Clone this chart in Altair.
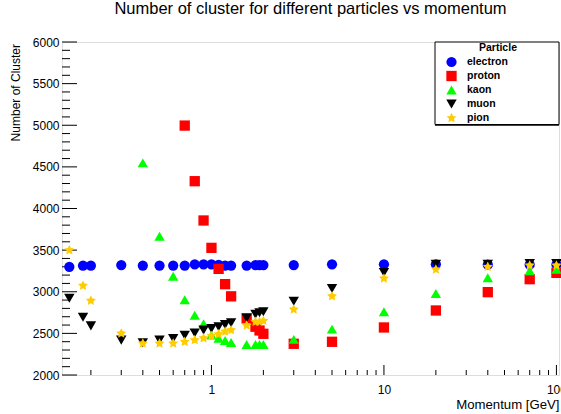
import altair as alt
import pandas as pd

momentum = [0.15, 0.18, 0.2, 0.3, 0.4, 0.5, 0.6, 0.7, 0.8, 0.9, 1.0, 1.1, 1.2, 1.3,
            1.6, 1.8, 1.9, 2.0, 3, 5, 10, 20, 40, 70, 100]

electron = [3300, 3315, 3315, 3320, 3315, 3315, 3315, 3315, 3330, 3330, 3330, 3322, 3315, 3315,
            3315, 3320, 3320, 3320, 3320, 3330, 3330, 3330, 3325, 3325, 3325]
# proton / kaon only visible from some momentum on
proton_p = [0.7, 0.8, 0.9, 1.0, 1.1, 1.2, 1.3, 1.6, 1.8, 1.9, 2.0, 3, 5, 10, 20, 40, 70, 100]
proton = [4996, 4328, 3856, 3527, 3275, 3091, 2945, 2680, 2580, 2535, 2495, 2375, 2399, 2571,
          2775, 2995, 3151, 3227]
kaon_p = [0.4, 0.5, 0.6, 0.7, 0.8, 0.9, 1.0, 1.1, 1.2, 1.3, 1.6, 1.8, 1.9, 2.0, 3, 5, 10, 20, 40, 70, 100]
kaon = [4548, 3667, 3187, 2903, 2719, 2616, 2480, 2440, 2415, 2390, 2367, 2367, 2367, 2367,
        2428, 2551, 2759, 2980, 3167, 3251, 3271]
muon = [2922, 2695, 2590, 2419, 2387, 2419, 2439, 2477, 2505, 2539, 2559, 2579, 2605, 2628,
        2684, 2730, 2748, 2759, 2887, 3040, 3232, 3331, 3330, 3338, 3338]
pion = [3499, 3073, 2893, 2499, 2379, 2379, 2379, 2399, 2419, 2442, 2469, 2490, 2522, 2539,
        2595, 2639, 2641, 2651, 2788, 2947, 3160, 3268, 3299, 3316, 3316]

particles = ["electron", "proton", "kaon", "muon", "pion"]
colors = ["#0000ff", "#ff0000", "#00ff00", "#000000", "#ffcc00"]
star = ("M0,-1L0.29,-0.4L0.951,-0.309L0.476,0.155L0.588,0.809L0,0.5"
        "L-0.588,0.809L-0.476,0.155L-0.951,-0.309L-0.29,-0.4Z")
shapes = ["circle", "square", "triangle-up", "triangle-down", star]
legend_title = ["Particle"]

y_major = list(range(2000, 6001, 500))
y_minor = [v for v in range(2000, 6001, 100) if v % 500 != 0]
x_major = [1, 10, 100]
x_minor = [0.2, 0.3, 0.4, 0.5, 0.6, 0.7, 0.8, 0.9, 2, 3, 4, 5, 6, 7, 8, 9,
           20, 30, 40, 50, 60, 70, 80, 90]

rows = []
for p, v in zip(momentum, electron):
    rows.append(("electron", p, v))
for p, v in zip(proton_p, proton):
    rows.append(("proton", p, v))
for p, v in zip(kaon_p, kaon):
    rows.append(("kaon", p, v))
for p, v in zip(momentum, muon):
    rows.append(("muon", p, v))
for p, v in zip(momentum, pion):
    rows.append(("pion", p, v))
df = pd.DataFrame(rows, columns=["Particle", "Momentum", "Clusters"])

W, H = 497, 333
FONT = "Liberation Sans"

xscale = alt.Scale(type="log", domain=[0.136, 103.5], nice=False)
yscale = alt.Scale(domain=[2000, 6000], nice=False, zero=False)

xaxis = alt.Axis(values=x_major, format="d", ticks=False, domain=False, grid=False,
                 labelFont=FONT, labelFontSize=12, labelColor="black", labelPadding=9,
                 labelFlush=False, labelOverlap=False,
                 title="Momentum [GeV]", titleFont=FONT, titleFontSize=13.2,
                 titleFontWeight="normal", titleColor="black",
                 titleX=W, titleY=29, titleAlign="right", titleBaseline="middle")
yaxis = alt.Axis(values=y_major, format="d", ticks=False, domain=False, grid=False,
                 labelFont=FONT, labelFontSize=12, labelColor="black", labelPadding=3,
                 labelFlush=False, labelOverlap=False,
                 title="Number of Cluster", titleFont=FONT, titleFontSize=12,
                 titleFontWeight="normal", titleColor="black",
                 titleX=-47, titleY=1.5, titleAngle=270, titleAlign="right",
                 titleBaseline="middle")

legend = alt.Legend(orient="none", legendX=373, legendY=12.5, title=None,
                    labelFont=FONT, labelFontSize=10.5, labelFontWeight="bold",
                    labelColor="black", labelOffset=10,
                    padding=2,
                    symbolOffset=9, symbolSize=100, symbolStrokeWidth=0,
                    symbolOpacity=1, rowPadding=3)

points = alt.Chart(df).mark_point(filled=True, opacity=1, strokeWidth=0).encode(
    x=alt.X("Momentum:Q", scale=xscale, axis=xaxis),
    y=alt.Y("Clusters:Q", scale=yscale, axis=yaxis),
    color=alt.Color("Particle:N", scale=alt.Scale(domain=particles, range=colors), legend=legend),
    shape=alt.Shape("Particle:N", scale=alt.Scale(domain=particles, range=shapes), legend=legend),
    size=alt.Size("Particle:N", scale=alt.Scale(domain=particles, range=[105, 110, 105, 105, 135]),
                  legend=None),
)

ymaj = alt.Chart(pd.DataFrame({"v": y_major})).mark_rule(color="black", strokeWidth=1).encode(
    y=alt.Y("v:Q", scale=yscale), x=alt.value(0), x2=alt.value(15))
ymin = alt.Chart(pd.DataFrame({"v": y_minor})).mark_rule(color="black", strokeWidth=1).encode(
    y=alt.Y("v:Q", scale=yscale), x=alt.value(0), x2=alt.value(8))
xmaj = alt.Chart(pd.DataFrame({"v": x_major})).mark_rule(color="black", strokeWidth=1).encode(
    x=alt.X("v:Q", scale=xscale), y=alt.value(H), y2=alt.value(H - 10))
xmin = alt.Chart(pd.DataFrame({"v": x_minor})).mark_rule(color="black", strokeWidth=1).encode(
    x=alt.X("v:Q", scale=xscale), y=alt.value(H), y2=alt.value(H - 5))

legend_box = alt.Chart(pd.DataFrame({"t": legend_title})).mark_rect(
    fill="white", stroke="black", strokeWidth=1).encode(
    x=alt.value(373), x2=alt.value(W), y=alt.value(0), y2=alt.value(82.5))
legend_shadow = alt.Chart(pd.DataFrame({"t": legend_title})).mark_rule(
    color="black", strokeWidth=1.5).encode(
    x=alt.value(373), x2=alt.value(W), y=alt.value(83), y2=alt.value(83))
legend_head = alt.Chart(pd.DataFrame({"t": legend_title})).mark_text(
    font=FONT, fontSize=10.5, fontWeight="bold", color="black",
    align="center", baseline="middle").encode(
    x=alt.value(436), y=alt.value(6), text="t:N")

chart = alt.layer(legend_box, legend_shadow, legend_head, ymaj, ymin, xmaj, xmin, points).properties(
    width=W, height=H,
    title=alt.TitleParams("Number of cluster for different particles vs momentum",
                          font=FONT, fontSize=16.5, fontWeight="normal", color="black",
                          anchor="middle", offset=19),
    autosize=alt.AutoSizeParams(type="none"),
    padding={"left": 62, "top": 42, "right": 2, "bottom": 39},
).configure_view(stroke="black", strokeWidth=1).configure(background="white")

chart.save("out.html", embed_options={"renderer": "svg", "actions": False})
